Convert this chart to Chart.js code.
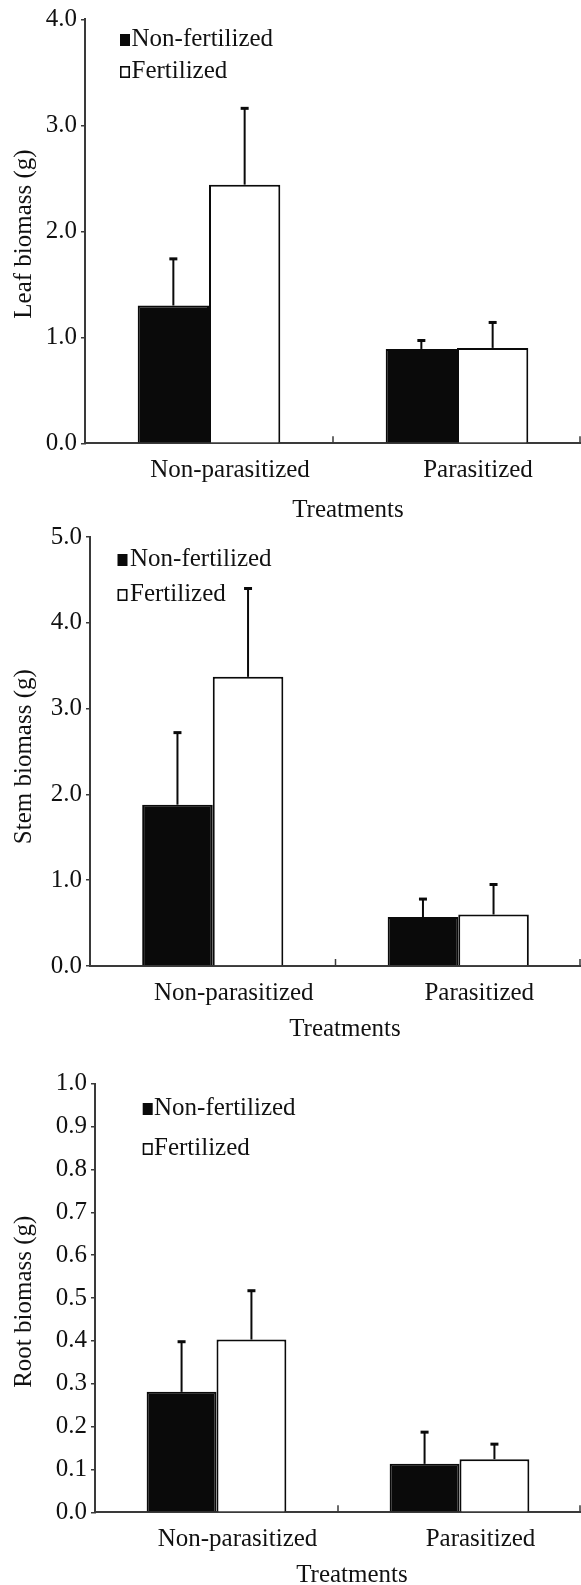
<!DOCTYPE html>
<html><head><meta charset="utf-8">
<script src="https://cdn.jsdelivr.net/npm/chart.js@4.4.1/dist/chart.umd.min.js"></script>
<style>
html,body{margin:0;padding:0;background:#fff;}
body{width:581px;height:1585px;position:relative;overflow:hidden;}
.box{position:absolute;left:0;width:581px;}
</style></head><body>
<div class="box" style="top:0;height:525px"><canvas id="c1"></canvas></div>
<div class="box" style="top:518px;height:522px"><canvas id="c2"></canvas></div>
<div class="box" style="top:1040px;height:545px"><canvas id="c3"></canvas></div>
<script>
// ---- data ----
const categories = ['Non-parasitized', 'Parasitized'];
const seriesNames = ['Non-fertilized', 'Fertilized'];
const xTitle = 'Treatments';

const leafNonFert = [1.30, 0.89];
const leafNonFertErr = [0.44, 0.08];
const leafFert = [2.44, 0.90];
const leafFertErr = [0.72, 0.24];
const leafTickLabels = ['0.0', '1.0', '2.0', '3.0', '4.0'];

const stemNonFert = [1.88, 0.57];
const stemNonFertErr = [0.84, 0.21];
const stemFert = [3.37, 0.60];
const stemFertErr = [1.03, 0.35];
const stemTickLabels = ['0.0', '1.0', '2.0', '3.0', '4.0', '5.0'];

const rootNonFert = [0.281, 0.113];
const rootNonFertErr = [0.117, 0.074];
const rootFert = [0.403, 0.124];
const rootFertErr = [0.114, 0.035];
const rootTickLabels = ['0.0', '0.1', '0.2', '0.3', '0.4', '0.5', '0.6', '0.7', '0.8', '0.9', '1.0'];

// ---- style ----
const FONT_FAMILY = '"Liberation Serif", "Times New Roman", serif';
const FONT_SIZE = 25;
const AX = '#3a3a3a';
const INK = '#111';
const BLACK = '#0a0a0a';

const errorBars = {
  id: 'errorBars',
  afterDatasetsDraw(chart) {
    const ctx = chart.ctx, y = chart.scales.y;
    chart.data.datasets.forEach((ds, i) => {
      const meta = chart.getDatasetMeta(i);
      meta.data.forEach((el, j) => {
        const v = ds.data[j], e = ds.err[j];
        const yTop = y.getPixelForValue(v + e);
        const yBar = y.getPixelForValue(v);
        ctx.save();
        ctx.strokeStyle = BLACK;
        ctx.lineWidth = 2;
        ctx.beginPath(); ctx.moveTo(el.x, yBar); ctx.lineTo(el.x, yTop); ctx.stroke();
        ctx.lineWidth = 3;
        ctx.beginPath(); ctx.moveTo(el.x - 4, yTop); ctx.lineTo(el.x + 4, yTop); ctx.stroke();
        ctx.restore();
      });
    });
  }
};

const figText = {
  id: 'figText',
  afterDraw(chart, args, o) {
    const ctx = chart.ctx, ca = chart.chartArea, xs = chart.scales.x;
    ctx.save();
    // inward tick marks at category boundaries
    ctx.strokeStyle = AX; ctx.lineWidth = 1.5;
    const n = xs.ticks.length;
    for (let i = 1; i <= n; i++) {
      const bx = i < n ? (xs.getPixelForTick(i - 1) + xs.getPixelForTick(i)) / 2 : ca.right - 1;
      ctx.beginPath(); ctx.moveTo(bx, ca.bottom); ctx.lineTo(bx, ca.bottom - 7); ctx.stroke();
    }
    ctx.font = FONT_SIZE + 'px ' + FONT_FAMILY;
    ctx.fillStyle = INK;
    // legend
    const L = o.legend;
    ctx.fillStyle = BLACK;
    ctx.fillRect(L.sqX, L.y1 - 12, 10, 12);
    ctx.strokeStyle = BLACK; ctx.lineWidth = 1.6;
    ctx.strokeRect(L.sqX + 0.8, L.y2 - 12 + 0.8, 8.4, 10.4);
    ctx.fillStyle = INK;
    ctx.textAlign = 'left'; ctx.textBaseline = 'alphabetic';
    ctx.fillText(chart.data.datasets[0].label, L.textX, L.y1);
    ctx.fillText(chart.data.datasets[1].label, L.textX, L.y2);
    // x title
    ctx.textAlign = 'center';
    ctx.fillText(xTitle, o.xTitleX, o.xTitleY);
    // y title
    ctx.translate(o.yTitleX, o.yTitleY);
    ctx.rotate(-Math.PI / 2);
    ctx.textBaseline = 'middle';
    ctx.fillText(o.yTitle, 0, 0);
    ctx.restore();
  }
};

function makeChart(id, cfg) {
  const tickVals = cfg.tickLabels.map(parseFloat);
  return new Chart(document.getElementById(id), {
    type: 'bar',
    data: {
      labels: categories,
      datasets: [
        { label: seriesNames[0], data: cfg.nonFert, err: cfg.nonFertErr,
          backgroundColor: BLACK, borderColor: BLACK, borderWidth: 2 },
        { label: seriesNames[1], data: cfg.fert, err: cfg.fertErr,
          backgroundColor: '#ffffff', borderColor: BLACK, borderWidth: 2 }
      ]
    },
    options: {
      responsive: true, maintainAspectRatio: false, animation: false,
      layout: { padding: { top: cfg.top, left: 0, right: 0, bottom: 0 } },
      datasets: { bar: { categoryPercentage: 0.575, barPercentage: 1 } },
      plugins: {
        legend: { display: false }, tooltip: { enabled: false },
        figText: cfg.text
      },
      scales: {
        x: {
          z: 1,
          grid: { display: false, drawTicks: false },
          border: { display: true, color: AX, width: 2 },
          ticks: { color: INK, font: { family: FONT_FAMILY, size: FONT_SIZE }, padding: 12,
                   labelOffset: 21, maxRotation: 0, autoSkip: false },
          afterFit(s) { s.height = cfg.h - cfg.bottom; }
        },
        y: {
          min: tickVals[0], max: tickVals[tickVals.length - 1],
          grid: { display: true, drawOnChartArea: false, drawTicks: true, tickLength: 4,
                  color: AX, tickColor: AX, lineWidth: 1.5 },
          border: { display: true, color: AX, width: 2 },
          ticks: { color: INK, font: { family: FONT_FAMILY, size: FONT_SIZE }, padding: 4,
                   callback: (v) => { const k = tickVals.findIndex(t => Math.abs(t - v) < 1e-9); return k >= 0 ? cfg.tickLabels[k] : ''; } },
          afterBuildTicks(s) { s.ticks = tickVals.map(v => ({ value: v })); },
          afterFit(s) { s.width = cfg.left; }
        }
      }
    },
    plugins: [errorBars, figText]
  });
}

makeChart('c1', {
  nonFert: leafNonFert, nonFertErr: leafNonFertErr, fert: leafFert, fertErr: leafFertErr,
  tickLabels: leafTickLabels, h: 525, top: 19.3, bottom: 443.3, left: 85,
  text: { legend: { sqX: 120, textX: 131.5, y1: 46, y2: 78 },
          xTitleX: 348, xTitleY: 517, yTitleX: 24, yTitleY: 234, yTitle: 'Leaf biomass (g)' }
});
makeChart('c2', {
  nonFert: stemNonFert, nonFertErr: stemNonFertErr, fert: stemFert, fertErr: stemFertErr,
  tickLabels: stemTickLabels, h: 522, top: 18, bottom: 448, left: 90,
  text: { legend: { sqX: 117.5, textX: 130, y1: 48, y2: 83 },
          xTitleX: 345, xTitleY: 518, yTitleX: 24, yTitleY: 238.7, yTitle: 'Stem biomass (g)' }
});
makeChart('c3', {
  nonFert: rootNonFert, nonFertErr: rootNonFertErr, fert: rootFert, fertErr: rootFertErr,
  tickLabels: rootTickLabels, h: 545, top: 43.7, bottom: 472.3, left: 95,
  text: { legend: { sqX: 142.7, textX: 154, y1: 75, y2: 115 },
          xTitleX: 352, xTitleY: 542, yTitleX: 24, yTitleY: 261.7, yTitle: 'Root biomass (g)' }
});
</script>
</body></html>
